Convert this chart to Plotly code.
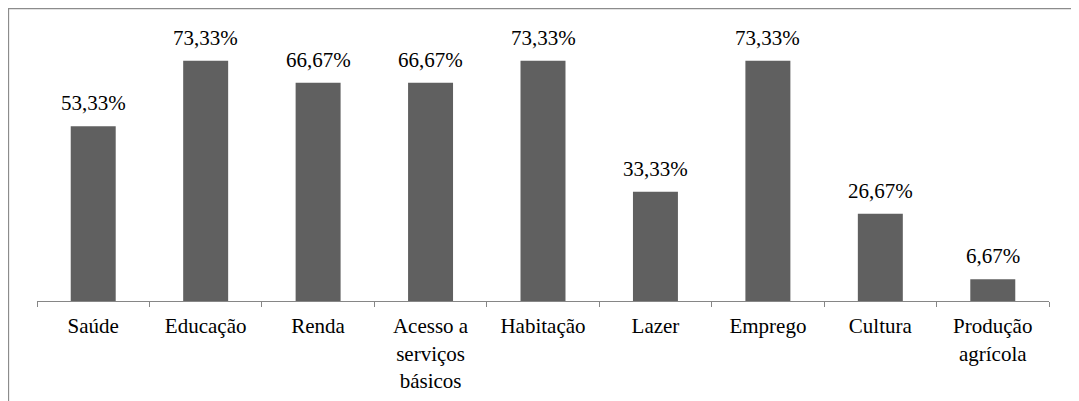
import plotly.graph_objects as go

categories = ["Saúde", "Educação", "Renda", "Acesso a<br>serviços<br>básicos", "Habitação",
              "Lazer", "Emprego", "Cultura", "Produção<br>agrícola"]
values = [53.33, 73.33, 66.67, 66.67, 73.33, 33.33, 73.33, 26.67, 6.67]
labels = ["53,33%", "73,33%", "66,67%", "66,67%", "73,33%", "33,33%", "73,33%", "26,67%", "6,67%"]

FONT = "Liberation Serif"
FS = 21

fig = go.Figure()
fig.add_trace(go.Bar(x=categories, y=values, marker_color="#606060",
                     marker_line_width=0, width=0.4, hoverinfo="skip"))

for c, v, t in zip(categories, values, labels):
    fig.add_annotation(x=c, y=v, text=t, showarrow=False, yanchor="bottom", yshift=9,
                       font=dict(family=FONT, size=FS, color="black"))

# page has an 8px body offset; figure coordinates are compensated
OFF = 8
W, H = 1079 - OFF, 401 - OFF
L, R, T, B = 37 - OFF, 1079 - 1049, 39 - OFF, 401 - 301
pw = W - L - R
ph = H - T - B
fig.add_shape(type="rect", xref="paper", yref="paper",
              x0=(8 - OFF - L + 0.5) / pw, x1=(1075 - OFF - L) / pw,
              y0=(H - B - 420) / ph, y1=(H - B - (9 - OFF) + 0.5) / ph,
              line=dict(color="#8c8c8c", width=1.3), fillcolor="rgba(0,0,0,0)", layer="below")

fig.update_layout(
    width=W, height=H, margin=dict(l=L, r=R, t=T, b=B),
    paper_bgcolor="white", plot_bgcolor="white", showlegend=False,
    font=dict(family=FONT, size=FS, color="black"),
    xaxis=dict(type="category", range=[-0.5, len(categories) - 0.5], showline=True,
               linecolor="#868686", linewidth=1.3, ticks="outside", tickson="boundaries",
               ticklen=5, tickcolor="#868686", tickwidth=1.3, showgrid=False, zeroline=False,
               tickfont=dict(family=FONT, size=FS, color="black"), tickangle=0,
               automargin=False, ticklabelstandoff=6),
    yaxis=dict(range=[0, 80], visible=False, showgrid=False, zeroline=False, automargin=False),
)

fig.write_html("out.html")
